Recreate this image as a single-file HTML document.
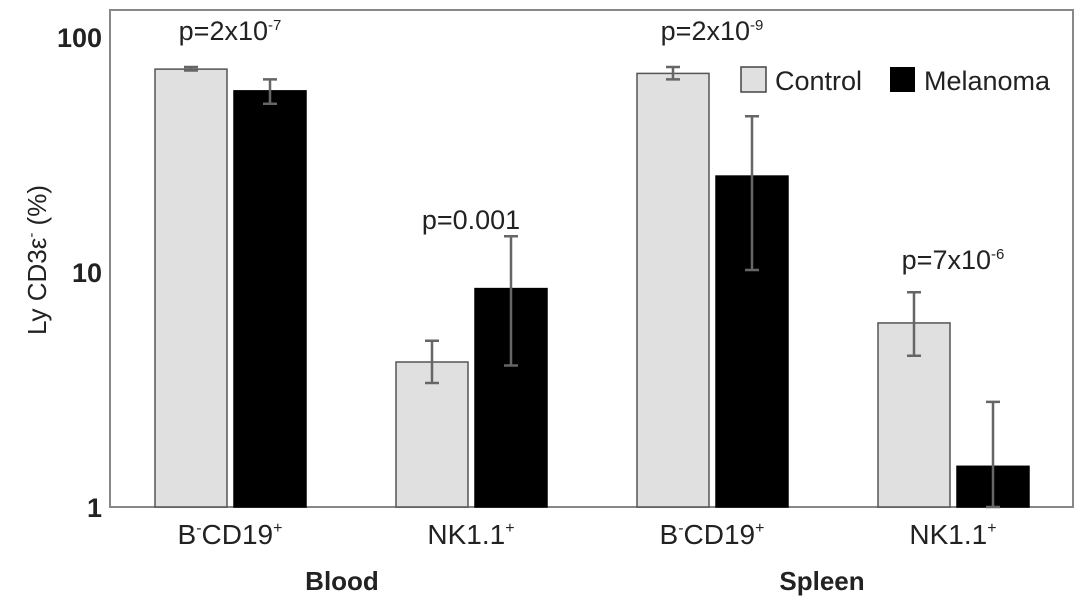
<!DOCTYPE html>
<html><head><meta charset="utf-8"><style>
body{margin:0;background:#fff;}
svg{display:block;font-family:"Liberation Sans",Arial,sans-serif;}
</style></head><body>
<svg id="chart" width="1087" height="609" viewBox="0 0 1087 609">
<rect x="110" y="10" width="963" height="497" fill="#fff" stroke="#888" stroke-width="2"/>
<g id="bars"></g>
<text transform="translate(46,260) rotate(-90)" text-anchor="middle" font-size="26" fill="#222">Ly CD3ε<tspan font-size="15" dy="-10">-</tspan><tspan dy="10"> (%)</tspan></text>
<text x="342" y="590" text-anchor="middle" font-size="26" font-weight="bold" fill="#222">Blood</text>
<text x="822" y="590" text-anchor="middle" font-size="26" font-weight="bold" fill="#222">Spleen</text>
<g>
<rect x="741" y="67" width="25" height="25" fill="#e0e0e0" stroke="#444" stroke-width="1.5"/>
<text x="775" y="90" font-size="27" fill="#222">Control</text>
<rect x="890" y="67" width="25" height="25" fill="#000"/>
<text x="924" y="90" font-size="27" fill="#222">Melanoma</text>
</g>
</svg>
<script>
const categories=["B-CD19+","NK1.1+","B-CD19+","NK1.1+"];
const controlValues=[73,4.14,70,6.07];
const controlLow=[72,3.37,66,4.4];
const controlHigh=[74.5,5.1,74.5,8.2];
const melanomaValues=[59,8.5,25.6,1.49];
const melanomaLow=[52,4.0,10.2,1.0];
const melanomaHigh=[66,14.2,46,2.8];
const pLabels=[["p=2x10","-7"],["p=0.001",""],["p=2x10","-9"],["p=7x10","-6"]];
const pValuesY=[40,229,40,269];
const yTicks=[1,10,100];

const svg=document.getElementById('chart');
const g=document.getElementById('bars');
const NS='http://www.w3.org/2000/svg';
const y0=507,decade=235;
function yScale(v){return y0-Math.log10(v)*decade;}
function xCenter(i){return 230+i*241;}
function mk(tag,attrs){const e=document.createElementNS(NS,tag);for(const k in attrs)e.setAttribute(k,attrs[k]);return e;}

yTicks.forEach((t,i)=>{
  const e=mk('text',{x:102,y:yScale(t)+10,'text-anchor':'end','font-size':27,'font-weight':'bold',fill:'#222'});
  e.textContent=t;
  
  
  svg.appendChild(e);
});

function drawBar(x,v,lo,hi,fill,name){
  const r=mk('rect',{x:x,y:yScale(v),width:72,height:y0-yScale(v),fill:fill,stroke:fill==='#000'?'#000':'#555','stroke-width':1.5});
  
  
  g.appendChild(r);
  const cx=x+36;
  const eb=mk('path',{d:`M${cx},${yScale(hi)}V${yScale(lo)}M${cx-7},${yScale(hi)}H${cx+7}M${cx-7},${yScale(lo)}H${cx+7}`,stroke:'#666','stroke-width':2.5,fill:'none'});
  
  
  g.appendChild(eb);
}
categories.forEach((c,i)=>{
  const cx=xCenter(i);
  drawBar(cx-75,controlValues[i],controlLow[i],controlHigh[i],'#e0e0e0','bar-control-'+i);
  drawBar(cx+4,melanomaValues[i],melanomaLow[i],melanomaHigh[i],'#000','bar-melanoma-'+i);
  const parts=c.match(/^(B)(-)(CD19)(\+)$/);
  const t=mk('text',{x:cx,y:544,'text-anchor':'middle','font-size':28,fill:'#222'});
  if(parts){t.innerHTML=`B<tspan font-size="16" dy="-11">-</tspan><tspan dy="11">CD19</tspan><tspan font-size="16" dy="-11">+</tspan>`;}
  else{t.innerHTML=`NK1.1<tspan font-size="16" dy="-11">+</tspan>`;}
  
  
  svg.appendChild(t);
  const p=mk('text',{x:cx,y:pValuesY[i],'text-anchor':'middle','font-size':27,fill:'#222'});
  p.innerHTML=pLabels[i][0]+(pLabels[i][1]?`<tspan font-size="15" dy="-10">${pLabels[i][1]}</tspan>`:'');
  
  
  svg.appendChild(p);
});
</script>
</body></html>
